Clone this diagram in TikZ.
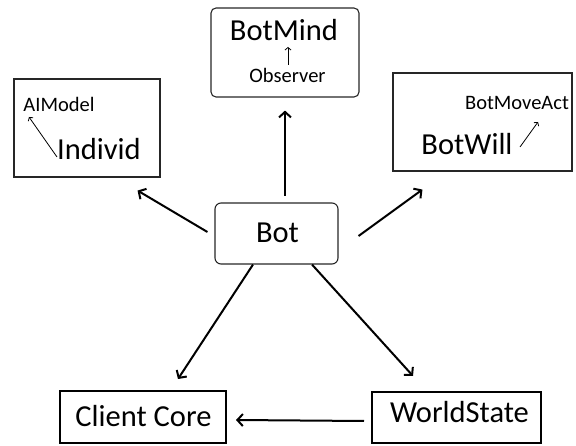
\documentclass[tikz,border=0pt]{standalone}
\usepackage{fontspec}
\setmainfont{Carlito}
\usetikzlibrary{arrows.meta,calc}
\tikzset{
  box/.style={draw=black!85, line width=1.1pt, minimum width=#1, inner sep=0pt},
  thickbox/.style={draw=black, line width=2pt, inner sep=0pt},
  big/.style={font=\fontsize{30.5}{34}\selectfont, inner sep=0pt, anchor=base},
  small/.style={font=\fontsize{20.5}{23}\selectfont, inner sep=0pt, anchor=base},
  arr/.style={line width=2pt, -{Straight Barb[length=5.5pt,width=12pt,line width=2pt]}},
  thinarr/.style={line width=0.8pt, -{Straight Barb[length=2.5pt,width=6pt,line width=0.8pt]}}
}
\begin{document}
\begin{tikzpicture}[x=1pt,y=-1pt]
\useasboundingbox (0,0) rectangle (576,446);
% boxes
\node[box=146pt, minimum height=98pt] (Individ) at (87,128) {};
\node[box=148pt, minimum height=89pt, rounded corners=5pt] (BotMind) at (285,52.5) {};
\node[box=179pt, minimum height=98pt] (BotWill) at (482.5,122) {};
\node[box=123pt, minimum height=61pt, rounded corners=6pt] (Bot) at (276.5,233.5) {};
\node[thickbox, minimum width=166pt, minimum height=52pt] (Core) at (143,417) {};
\node[thickbox, minimum width=169pt, minimum height=51pt] (World) at (456.5,417.5) {};
% texts
\node[small] (tAIModel) at (59,112) {AIModel};
\node[big] (tIndivid) at (99,160) {Individ};
\node[big] (tBotMind) at (284,41) {BotMind};
\node[small] (tObserver) at (287.5,83) {Observer};
\node[big] (tBotWill) at (467,155) {BotWill};
\node[small] (tBotMoveAct) at (517,110) {BotMoveAct};
\node[big] (tBot) at (277.5,243) {Bot};
\node[big] (tCore) at (143.5,427) {Client Core};
\node[big] (tWorld) at (459.5,423) {WorldState};
% small inner arrows
\coordinate (i1) at (57,157);
\coordinate (i2) at (29,117);
\draw[thinarr] (i1) -- (i2);
\coordinate (m1) at (288,65);
\coordinate (m2) at (288,47);
\draw[thinarr] (m1) -- (m2);
\coordinate (w1) at (520,147);
\coordinate (w2) at (538,122);
\draw[thinarr] (w1) -- (w2);
% connectors
\draw[arr] ($(Bot.west)+(-7,-1.5)$) -- ($(Individ.south east)+(-23,13)$);
\draw[arr] ($(BotMind.south)+(0,98)$) -- ($(BotMind.south)+(0,13)$);
\draw[arr] ($(Bot.east)+(20,2.5)$) -- ($(BotWill.south west)+(30,18)$);
\draw[arr] ($(Bot.south)+(-23.5,0)$) -- ($(Core.north)+(35,-11)$);
\draw[arr] ($(Bot.south)+(35.5,0)$) -- ($(World.north)+(-43.5,-15)$);
\draw[arr] ($(World.west)+(-7,3.5)$) -- ($(Core.east)+(9,3)$);
\end{tikzpicture}
\end{document}
